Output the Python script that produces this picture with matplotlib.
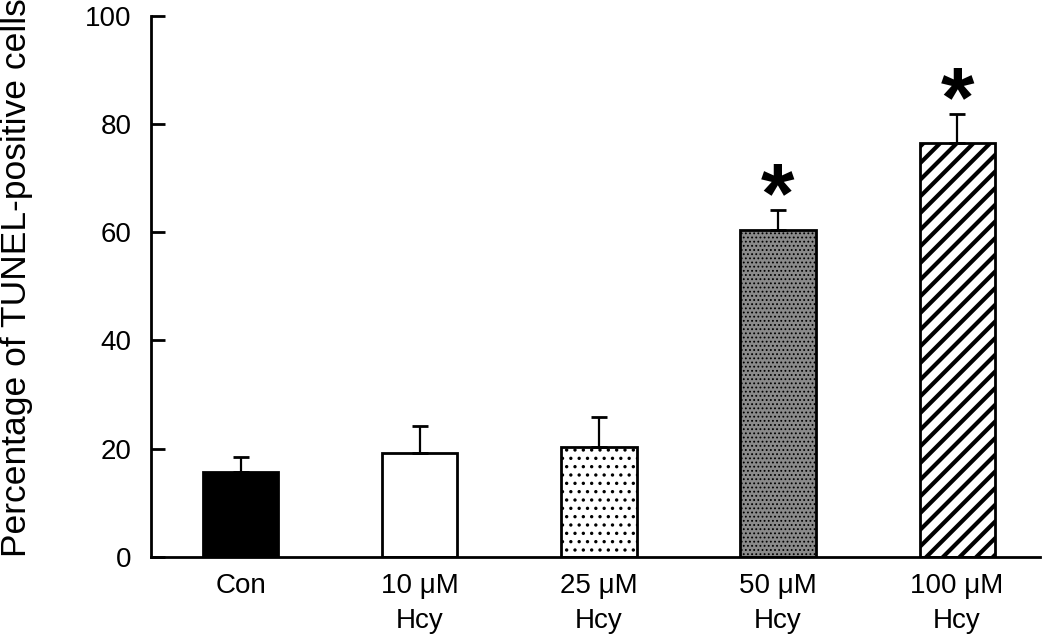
import matplotlib
matplotlib.use('Agg')
import matplotlib.pyplot as plt
import numpy as np

groups = ['Con', '10 \u03bcM\nHcy', '25 \u03bcM\nHcy', '50 \u03bcM\nHcy', '100 \u03bcM\nHcy']
means = [15.7, 19.2, 20.3, 60.5, 76.5]
errs = [2.8, 5.0, 5.5, 3.6, 5.3]
signif = [False, False, False, True, True]

faces = ['black', 'white', 'white', '#8a8a8a', 'white']
hatches = [None, None, '..', '....', '//']
hatch_lw = [1.0, 1.0, 1.2, 0.8, 3.0]

plt.rcParams['font.family'] = ['Liberation Sans', 'DejaVu Sans']

fig = plt.figure(figsize=(10.5, 6.4), dpi=100)
ax = fig.add_axes([0.144, 0.13, 0.846, 0.845])

x = np.arange(len(groups))
for i in range(len(groups)):
    with plt.rc_context({'hatch.linewidth': hatch_lw[i]}):
        b = ax.bar(x[i], means[i], width=0.42, color=faces[i], edgecolor='black',
                   linewidth=2.0, hatch=hatches[i], zorder=2)
        for p in b:
            if hasattr(p, 'set_hatch_linewidth'):
                p.set_hatch_linewidth(hatch_lw[i])

ax.errorbar(x, means, yerr=[np.zeros(len(errs)), errs], fmt='none', ecolor='black',
            elinewidth=1.6, capsize=6, capthick=2.0, zorder=3)

# asterisk glyph sits high in its em box, so anchor on the baseline below the error cap
for i in range(len(groups)):
    if signif[i]:
        ax.text(x[i], means[i] + errs[i] - 2.2, '*', ha='center', va='baseline',
                fontsize=62, fontweight='bold', color='black')

ax.set_xlim(-0.5, 4.46)
ax.set_ylim(0, 100)
ax.set_yticks([0, 20, 40, 60, 80, 100])
ax.set_xticks(x)
ax.set_xticklabels(groups, fontsize=20, linespacing=1.42)
ax.tick_params(axis='x', length=0, pad=12)
ax.tick_params(axis='y', direction='in', length=10, width=2, labelsize=20, pad=14)

for s in ['top', 'right']:
    ax.spines[s].set_visible(False)
for s in ['left', 'bottom']:
    ax.spines[s].set_linewidth(2.0)

fig.text(0.0, 1 - 557 / 640, 'Percentage of TUNEL-positive cells', rotation=90,
         ha='left', va='bottom', fontsize=25.5)

fig.savefig('out.png', dpi=100)
